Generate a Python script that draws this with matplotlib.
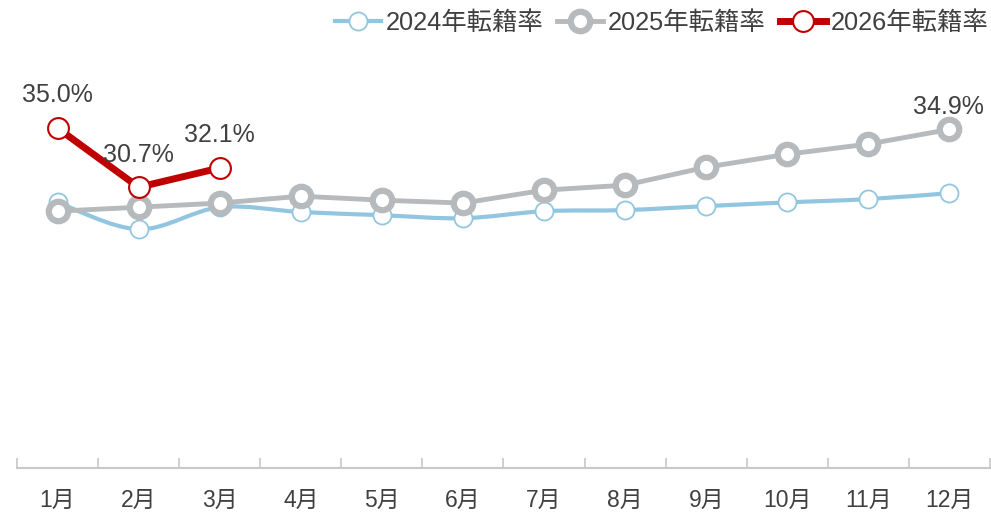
import matplotlib
matplotlib.use("Agg")
import matplotlib.pyplot as plt
from matplotlib.path import Path
from matplotlib.patches import PathPatch
from matplotlib.lines import Line2D
import numpy as np

plt.rcParams['font.family'] = ['Liberation Sans', 'Noto Sans CJK JP', 'DejaVu Sans']

months = ['1月', '2月', '3月', '4月', '5月', '6月', '7月', '8月', '9月', '10月', '11月', '12月']
rate_2024 = [29.6, 27.65, 29.25, 28.9, 28.67, 28.45, 28.96, 29.04, 29.33, 29.6, 29.84, 30.27]
rate_2025 = [28.96, 29.25, 29.55, 30.05, 29.76, 29.55, 30.49, 30.85, 32.16, 33.1, 33.84, 34.9]
rate_2026 = [35.0, 30.7, 32.1]
series_names = ['2024年転籍率', '2025年転籍率', '2026年転籍率']

c_blue = '#92c6e0'
c_gray = '#b6babd'
c_red = '#c00000'
txt = '#404040'


def smooth_path(xs, ys):
    # catmull-rom style bezier through the points
    pts = np.column_stack([xs, ys]).astype(float)
    n = len(pts)
    verts = [pts[0]]
    codes = [Path.MOVETO]
    for i in range(n - 1):
        p0 = pts[i - 1] if i > 0 else pts[i]
        p1 = pts[i]
        p2 = pts[i + 1]
        p3 = pts[i + 2] if i + 2 < n else pts[i + 1]
        c1 = p1 + (p2 - p0) / 6.0
        c2 = p2 - (p3 - p1) / 6.0
        verts += [c1, c2, p2]
        codes += [Path.CURVE4] * 3
    return Path(verts, codes)


fig = plt.figure(figsize=(9.91, 5.13), dpi=100)
ax = fig.add_axes([17 / 991, 45 / 513, 973 / 991, 428 / 513])

x = np.arange(len(months))

blue_kw = dict(marker='o', ms=13, mfc='white', mec=c_blue, mew=1.3)
gray_kw = dict(color=c_gray, lw=3.5, marker='o', ms=14, mfc='white', mec=c_gray, mew=4.5)
red_kw = dict(color=c_red, lw=5, marker='o', ms=15, mfc='white', mec=c_red, mew=1.5)

# 2024 smoothed line
ax.add_patch(PathPatch(smooth_path(x, rate_2024), fill=False, edgecolor=c_blue, lw=3, zorder=2))
ax.plot(x, rate_2024, ls='none', zorder=3, **blue_kw)

# 2025
ax.plot(x, rate_2025, zorder=4, **gray_kw)

# 2026
ax.plot(x[:len(rate_2026)], rate_2026, zorder=5, **red_kw)

# data labels
lab_kw = dict(textcoords='offset points', ha='center', va='center', fontsize=18, color=txt, zorder=6)
ax.annotate('35.0%', (0, rate_2026[0]), xytext=(0, 24), **lab_kw)
ax.annotate('30.7%', (1, rate_2026[1]), xytext=(0, 23), **lab_kw)
ax.annotate('32.1%', (2, rate_2026[2]), xytext=(0, 24), **lab_kw)
ax.annotate('34.9%', (11, rate_2025[11]), xytext=(-1, 16), **lab_kw)

ax.set_xlim(-0.5, 11.5)
ax.set_ylim(10.3, 41.4)

for s in ['top', 'right', 'left']:
    ax.spines[s].set_visible(False)
ax.spines['bottom'].set_color('#c8c8c8')
ax.spines['bottom'].set_linewidth(1.5)
ax.set_yticks([])
ax.set_xticks(x)
ax.set_xticklabels(months, fontsize=16.5, color=txt)
ax.tick_params(axis='x', which='major', length=0, pad=15)
ax.set_xticks(np.arange(-0.5, 12, 1), minor=True)
ax.tick_params(axis='x', which='minor', direction='in', length=7, width=1.2, color='#c8c8c8')

handles = [
    Line2D([], [], color=c_blue, lw=3, **blue_kw),
    Line2D([], [], **gray_kw),
    Line2D([], [], **red_kw),
]
leg = fig.legend(handles, series_names, loc='upper right', bbox_to_anchor=(1.0, 0.983), ncol=3,
                 frameon=False, fontsize=18.3, handlelength=1.8, handletextpad=0.2,
                 columnspacing=0.55, borderpad=0.0, borderaxespad=0.1)
for t in leg.get_texts():
    t.set_color(txt)

fig.savefig('out.png', dpi=100)
